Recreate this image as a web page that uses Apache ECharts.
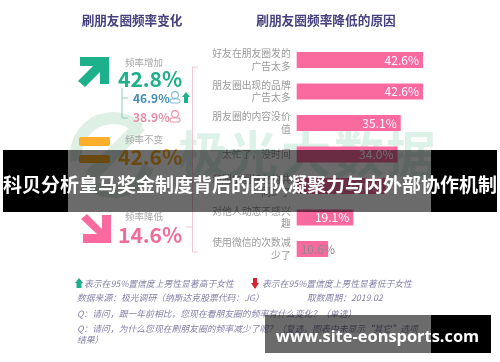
<!DOCTYPE html>
<html><head><meta charset="utf-8">
<style>html,body{margin:0;padding:0;background:#fff}#a,#b{position:absolute;left:0;top:0;width:500px;height:362px}#a{filter:blur(.55px)}</style>
<script src="https://cdn.jsdelivr.net/npm/echarts@6/dist/echarts.min.js"></script>
</head><body><div id="a"></div><div id="b"></div>
<script>
const reasonLabels = ['好友在朋友圈发的\n广告太多','朋友圈出现的品牌\n广告太多','朋友圈的内容没价\n值','太忙了，没时间','和朋友圈好友的共\n同少了','对他人动态不感兴\n趣','使用微信的次数减\n少了'];
const reasonValues = [42.6,42.6,35.1,34.0,30.0,19.1,10.6];
const titleLeft = '刷朋友圈频率变化';
const titleRight = '刷朋友圈频率降低的原因';
const increase = '42.8%', male = '46.9%', female = '38.9%', same = '42.6%', decrease = '14.6%';
const watermark = ['极','光','大','数','据'];
const bannerText = '科贝分析皇马奖金制度背后的团队凝聚力与内外部协作机制';
const siteText = 'www.site-eonsports.com';
const notes = ['表示在95%置信度上男性显著高于女性','表示在95%置信度上男性显著低于女性','数据来源：极光调研（纳斯达克股票代码：JG）','取数周期：2019.02','Q：请问，跟一年前相比，您现在看朋友圈的频率有什么变化？（单选）','Q：请问，为什么您现在刷朋友圈的频率减少了呢？（复选，图表中未显示“其它”选项','结果）'];

const FF='"Noto Sans CJK SC"';
const GREEN='#1cb08b',PINK='#fb6a9f',ORANGE='#fdaf2a',NAVY='#45407f',GRAY='#a8a8a8',NOTE='#8582a8';
const T=(text,x,y,size,fill,o={})=>({type:'text',z:o.z??50,style:{text,x,y,fill,font:`${o.italic?'italic ':''}${o.weight||'normal'} ${size}px ${FF}`,align:o.align||'left',verticalAlign:'middle',opacity:o.opacity??1}});
const P=(points,fill,z=50)=>({type:'polygon',z,shape:{points},style:{fill}});
const L=(points,stroke,w=1)=>({type:'polyline',z:50,shape:{points},style:{stroke,lineWidth:w,fill:'none'}});
const person=(cx,cy,c)=>[{type:'circle',z:50,shape:{cx,cy:cy-2,r:3.4},style:{fill:'none',stroke:c,lineWidth:1.1}},{type:'rect',z:50,shape:{x:cx-5,y:cy+2,width:10,height:4,r:1.5},style:{fill:'none',stroke:c,lineWidth:1.1}}];

const back=[
 {type:'arc',z:-5,shape:{cx:113,cy:155,r:37,startAngle:Math.PI*0.95,endAngle:Math.PI*1.75},style:{stroke:'#deefe4',lineWidth:12,fill:'none'}},
 {type:'arc',z:-5,shape:{cx:113,cy:155,r:37,startAngle:Math.PI*0.1,endAngle:Math.PI*0.75},style:{stroke:'#deefe4',lineWidth:12,fill:'none'}},
 P([[85,172],[135,122],[145,130],[95,182]],'#deefe4',-5),
 ...watermark.map((c,i)=>T(c,[178,228,281,334,386][i],154,50,'#dcf1e7',{z:-4,weight:'bold'})),
];
const front=[
 T(titleLeft,132,20,12.6,NAVY,{align:'center',weight:'bold'}),
 T(titleRight,326,20,12.7,NAVY,{align:'center',weight:'bold'}),
 P([[80,57],[109,57],[109,84],[100,84],[100,72],[85,87],[78,81],[93,66],[80,66]],GREEN),
 T('频率增加',144,62,9.5,GRAY,{align:'center'}),
 T(increase,118,79,21,GREEN,{weight:'bold'}),
 L([[122,88],[122,118],[128,118]],'#8fcdbb'),L([[122,98],[128,98]],'#8fcdbb'),
 T(male,133,98,12,'#3f8db5',{weight:'bold'}),
 ...person(175,97,'#7fbcd6'),
 P([[186,92],[190,97],[188,97],[188,103],[184,103],[184,97],[182,97]],GREEN),
 T(female,133,117,12,'#e68ea6',{weight:'bold'}),
 ...person(175,116,'#ee8fa6'),
 {type:'rect',z:50,shape:{x:79,y:137,width:31,height:9,r:2},style:{fill:ORANGE}},
 {type:'rect',z:50,shape:{x:79,y:155,width:31,height:8,r:2},style:{fill:ORANGE}},
 T('频率不变',144,139,9.5,GRAY,{align:'center'}),
 T(same,118,157,21,ORANGE,{weight:'bold'}),
 P([[111,215],[111,243],[83,243],[83,234],[97,234],[81,219],[87,214],[102,229],[102,215]],PINK),
 T('频率降低',144,216,9.5,GRAY,{align:'center'}),
 T(decrease,118,235,21,'#f06c9b',{weight:'bold'}),
 L([[198,67],[192.5,67],[192.5,252],[198,252]],'#f3c6d3'),L([[186,227],[192.5,227]],'#f3c6d3'),
 P([[79,278],[83,283],[81.5,283],[81.5,288],[76.5,288],[76.5,283],[75,283]],GREEN),
 T(notes[0],84,283.5,8.8,NOTE,{italic:1}),
 P([[253,278],[257,278],[257,283],[259,283],[255,289],[251,283],[253,283]],'#d8232f'),
 T(notes[1],262,283.5,8.8,NOTE,{italic:1}),
 T(notes[2],77,298,8.8,NOTE,{italic:1}),
 T(notes[3],307,298,8.8,NOTE,{italic:1}),
 T(notes[4],77,314,8.8,NOTE,{italic:1}),
 T(notes[5],77,329,8.8,NOTE,{italic:1}),
 T(notes[6],77,340,8.8,NOTE,{italic:1}),
];
const chart=echarts.init(document.getElementById('a'),null,{renderer:'canvas'});
chart.setOption({animation:false,backgroundColor:'#fff',
 grid:{left:296.7,top:44.25,width:148.2,height:220.5},
 xAxis:{type:'value',min:0,max:50,show:false},
 yAxis:{type:'category',inverse:true,data:reasonLabels,axisLine:{show:false},axisTick:{show:false},
  axisLabel:{color:'#9b9b9b',fontSize:9.8,fontFamily:FF,lineHeight:12.5,margin:6,align:'right'}},
 series:[{type:'bar',barWidth:16,z:5,itemStyle:{color:PINK},
  data:reasonValues.map((v,i)=>i===reasonValues.length-1?{value:v,label:{position:'insideLeft',distance:4,color:'#8b8b8b'}}:v),
  label:{show:true,position:'insideRight',distance:4,color:'#fff',fontSize:12,fontFamily:FF,formatter:p=>p.value.toFixed(1)+'%'}}],
 graphic:{elements:[...back,...front]}
});
const over=echarts.init(document.getElementById('b'),null,{renderer:'canvas'});
const bar=(x,y,w,h,fill)=>({type:'rect',shape:{x,y,width:w,height:h},style:{fill}});
over.setOption({animation:false,backgroundColor:'transparent',graphic:{elements:[
 bar(3,150,65,62,'#000'),bar(431,150,66,62,'#000'),bar(68,150,363,62,'rgba(0,0,0,.58)'),
 bar(431,315,60,38,'#000'),bar(265,315,166,38,'rgba(0,0,0,.58)'),
 {type:'text',style:{text:bannerText,x:250,y:185,fill:'#fff',font:`bold 19px ${FF}`,align:'center',verticalAlign:'middle'}},
 {type:'text',style:{text:siteText,x:377.5,y:337,fill:'#fff',font:`bold 16.4px "Open Sans"`,align:'center',verticalAlign:'middle'}},
]}});
</script></body></html>
